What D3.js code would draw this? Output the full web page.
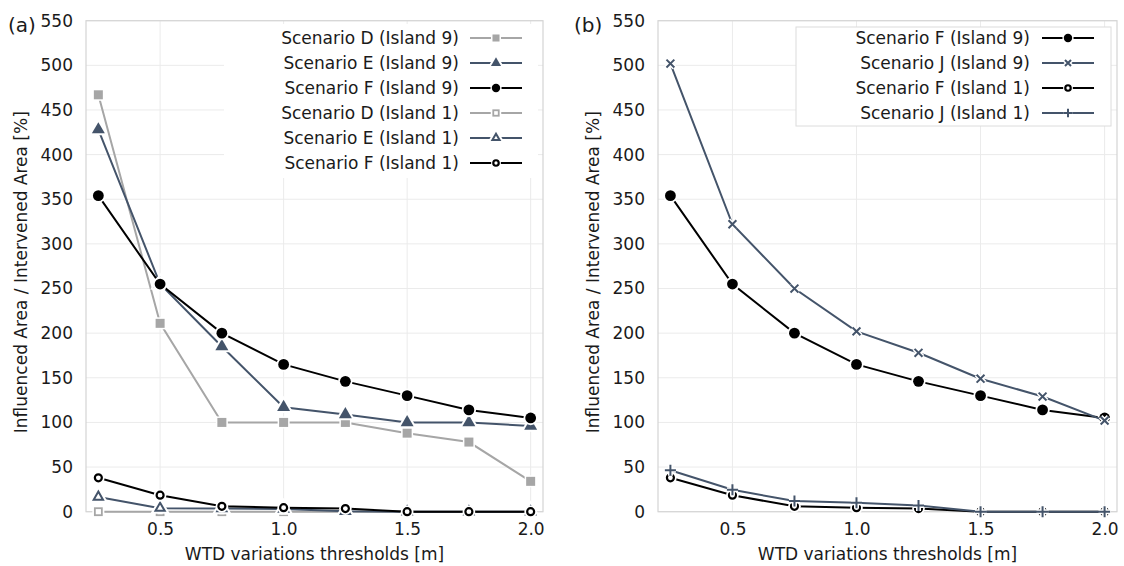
<!DOCTYPE html>
<html>
<head>
<meta charset="utf-8">
<script src="https://cdn.jsdelivr.net/npm/d3@7"></script>
<style>
  html, body { margin: 0; padding: 0; background: #fff; }
  svg { display: block; }
  text { font-family: "DejaVu Sans", Verdana, sans-serif; fill: #1a1a1a; }
</style>
</head>
<body>
<svg id="chart" width="1124" height="566"></svg>
<script>
// ---------- data ----------
const thresholds = [0.25, 0.5, 0.75, 1.0, 1.25, 1.5, 1.75, 2.0];
const xTicks = [0.5, 1.0, 1.5, 2.0];
const yTicks = [0, 50, 100, 150, 200, 250, 300, 350, 400, 450, 500, 550];

const scenD_island9 = [467, 211, 100, 100, 100, 88, 78, 34];
const scenE_island9 = [428, 255, 185, 117, 109, 100, 100, 96];
const scenF_island9 = [354, 255, 200, 165, 146, 130, 114, 105];
const scenD_island1 = [0, 0, 0, 0, 0, 0, 0, 0];
const scenE_island1 = [16.5, 4, 3.5, 3, 0.5, 0, 0, 0];
const scenF_island1 = [38, 18.5, 6, 4.5, 3.5, 0, 0, 0];
const scenJ_island9 = [502, 322, 250, 202, 178, 149, 129, 102];
const scenJ_island1 = [46.5, 24.5, 12, 10, 7, 0, 0, 0];

const labelsA = ["Scenario D (Island 9)", "Scenario E (Island 9)", "Scenario F (Island 9)",
                 "Scenario D (Island 1)", "Scenario E (Island 1)", "Scenario F (Island 1)"];
const labelsB = ["Scenario F (Island 9)", "Scenario J (Island 9)", "Scenario F (Island 1)", "Scenario J (Island 1)"];

// ---------- styles ----------
const GRAY = "#a6a6a6", BLUE = "#44546a", BLACK = "#000000";
const styleOf = {
  D9: {color: GRAY, marker: "square", filled: true},
  E9: {color: BLUE, marker: "triangle", filled: true},
  F9: {color: BLACK, marker: "circle", filled: true},
  D1: {color: GRAY, marker: "square", filled: false},
  E1: {color: BLUE, marker: "triangle", filled: false},
  F1: {color: BLACK, marker: "circle", filled: false},
  J9: {color: BLUE, marker: "x", filled: false},
  J1: {color: BLUE, marker: "plus", filled: false}
};

const panelA = {
  tag: "(a)", left: 86, right: 543, titleX: 21, tagX: 8,
  series: [
    {key: "D9", values: scenD_island9, label: labelsA[0]},
    {key: "E9", values: scenE_island9, label: labelsA[1]},
    {key: "F9", values: scenF_island9, label: labelsA[2]},
    {key: "D1", values: scenD_island1, label: labelsA[3]},
    {key: "E1", values: scenE_island1, label: labelsA[4]},
    {key: "F1", values: scenF_island1, label: labelsA[5]}
  ],
  legend: {textX: 459, lineX0: 470, lineX1: 522, y0: 38, dy: 25,
           box: {x: 224, y: 24, w: 314, h: 154, border: false}}
};
const panelB = {
  tag: "(b)", left: 658, right: 1117, titleX: 593, tagX: 574,
  series: [
    {key: "F9", values: scenF_island9, label: labelsB[0]},
    {key: "J9", values: scenJ_island9, label: labelsB[1]},
    {key: "F1", values: scenF_island1, label: labelsB[2]},
    {key: "J1", values: scenJ_island1, label: labelsB[3]}
  ],
  legend: {textX: 1030, lineX0: 1042, lineX1: 1094, y0: 38, dy: 25,
           box: {x: 796, y: 27, w: 315, h: 99, border: true}}
};

const TOP = 20.7, BOTTOM = 511.7;
const FS = 17;
const svg = d3.select("#chart");
svg.append("rect").attr("width", 1124).attr("height", 566).attr("fill", "#fff");

function drawMarker(g, key, cx, cy, small) {
  const st = styleOf[key];
  const k = small ? 0.78 : 1;
  const t = `translate(${cx},${cy})`;
  if (st.marker === "circle") {
    if (st.filled) {
      g.append("circle").attr("cx", cx).attr("cy", cy).attr("r", 7.2 * k).attr("fill", "#fff");
      g.append("circle").attr("cx", cx).attr("cy", cy).attr("r", 5.4 * k).attr("fill", st.color);
    } else {
      g.append("circle").attr("cx", cx).attr("cy", cy).attr("r", 6.3 * k).attr("fill", "#fff");
      g.append("circle").attr("cx", cx).attr("cy", cy).attr("r", 3.5 * k)
        .attr("fill", "#fff").attr("stroke", st.color).attr("stroke-width", 2.2);
    }
  } else if (st.marker === "square") {
    if (st.filled) {
      const s = 9 * k;
      g.append("rect").attr("x", cx - s / 2 - 1.5).attr("y", cy - s / 2 - 1.5).attr("width", s + 3).attr("height", s + 3).attr("fill", "#fff");
      g.append("rect").attr("x", cx - s / 2).attr("y", cy - s / 2).attr("width", s).attr("height", s).attr("fill", st.color);
    } else {
      const s = 7 * k;
      g.append("rect").attr("x", cx - s / 2 - 2.5).attr("y", cy - s / 2 - 2.5).attr("width", s + 5).attr("height", s + 5).attr("fill", "#fff");
      g.append("rect").attr("x", cx - s / 2).attr("y", cy - s / 2).attr("width", s).attr("height", s)
        .attr("fill", "#fff").attr("stroke", st.color).attr("stroke-width", 1.8);
    }
  } else if (st.marker === "triangle") {
    const tri = d3.symbolTriangle2 || d3.symbolTriangle;
    if (st.filled) {
      const p = d3.symbol().type(tri).size(120 * k * k)();
      g.append("path").attr("d", p).attr("transform", t).attr("fill", "#fff").attr("stroke", "#fff").attr("stroke-width", 4);
      g.append("path").attr("d", p).attr("transform", t).attr("fill", st.color);
    } else {
      const p = d3.symbol().type(tri).size(62 * k * k)();
      g.append("path").attr("d", p).attr("transform", t).attr("fill", "#fff").attr("stroke", "#fff").attr("stroke-width", 6);
      g.append("path").attr("d", p).attr("transform", t).attr("fill", "#fff").attr("stroke", st.color).attr("stroke-width", 2);
    }
  } else if (st.marker === "x" || st.marker === "plus") {
    const type = st.marker === "x" ? d3.symbolX : d3.symbolPlus;
    const p = d3.symbol().type(type).size(42 * k * k)();
    g.append("path").attr("d", p).attr("transform", t).attr("fill", "none").attr("stroke", "#fff").attr("stroke-width", 5);
    g.append("path").attr("d", p).attr("transform", t).attr("fill", "none").attr("stroke", st.color).attr("stroke-width", 2);
  }
}

function drawPanel(P) {
  const x = d3.scaleLinear().domain([0.2, 2.05]).range([P.left, P.right]);
  const y = d3.scaleLinear().domain([0, 550]).range([BOTTOM, TOP]);
  const g = svg.append("g");

  // gridlines
  g.append("g").selectAll("line").data(xTicks).join("line")
    .attr("x1", d => x(d)).attr("x2", d => x(d)).attr("y1", TOP).attr("y2", BOTTOM)
    .attr("stroke", "#ebebeb").attr("stroke-width", 1);
  g.append("g").selectAll("line").data(yTicks).join("line")
    .attr("x1", P.left).attr("x2", P.right).attr("y1", d => y(d)).attr("y2", d => y(d))
    .attr("stroke", "#ebebeb").attr("stroke-width", 1);
  // frame
  g.append("rect").attr("x", P.left).attr("y", TOP).attr("width", P.right - P.left).attr("height", BOTTOM - TOP)
    .attr("fill", "none").attr("stroke", "#d4d4d4").attr("stroke-width", 1.2);

  // axes
  const xAxis = d3.axisBottom(x).tickValues(xTicks).tickFormat(d3.format(".1f")).tickSize(0).tickPadding(11);
  const gx = g.append("g").attr("transform", `translate(0,${BOTTOM})`).call(xAxis);
  gx.select(".domain").remove();
  gx.selectAll("text").attr("font-size", FS).attr("font-family", "DejaVu Sans").attr("fill", "#1a1a1a");

  const yAxis = d3.axisLeft(y).tickValues(yTicks).tickSize(0).tickPadding(13);
  const gy = g.append("g").attr("transform", `translate(${P.left},0)`).call(yAxis);
  gy.select(".domain").remove();
  gy.selectAll("text").attr("font-size", FS).attr("font-family", "DejaVu Sans").attr("fill", "#1a1a1a");

  // titles
  g.append("text").attr("x", (P.left + P.right) / 2).attr("y", 560).attr("text-anchor", "middle")
    .attr("font-size", FS).text("WTD variations thresholds [m]");
  g.append("text").attr("transform", `translate(${P.titleX},${(TOP + BOTTOM) / 2 + 6}) rotate(-90)`)
    .attr("text-anchor", "middle").attr("dominant-baseline", "central")
    .attr("font-size", FS).text("Influenced Area / Intervened Area [%]");
  g.append("text").attr("x", P.tagX).attr("y", 32).attr("font-family", "Liberation Sans, Arial, sans-serif")
    .attr("font-size", 20).text(P.tag);

  // series
  const line = d3.line().x((d, i) => x(thresholds[i])).y(d => y(d));
  P.series.forEach(s => {
    const st = styleOf[s.key];
    const sg = g.append("g");
    sg.append("path").attr("d", line(s.values)).attr("fill", "none")
      .attr("stroke", st.color).attr("stroke-width", 2);
    s.values.forEach((v, i) => drawMarker(sg, s.key, x(thresholds[i]), y(v), false));
  });

  // legend
  const L = P.legend;
  const lg = g.append("g");
  lg.append("rect").attr("x", L.box.x).attr("y", L.box.y).attr("width", L.box.w).attr("height", L.box.h)
    .attr("fill", "#fff").attr("stroke", L.box.border ? "#dcdcdc" : "none").attr("stroke-width", 1);
  P.series.forEach((s, i) => {
    const st = styleOf[s.key];
    const cy = L.y0 + i * L.dy;
    lg.append("text").attr("x", L.textX).attr("y", cy).attr("text-anchor", "end")
      .attr("dominant-baseline", "central").attr("font-size", FS).text(s.label);
    lg.append("line").attr("x1", L.lineX0).attr("x2", L.lineX1).attr("y1", cy).attr("y2", cy)
      .attr("stroke", st.color).attr("stroke-width", 2);
    drawMarker(lg, s.key, (L.lineX0 + L.lineX1) / 2, cy, true);
  });
}

drawPanel(panelA);
drawPanel(panelB);
</script>
</body>
</html>
